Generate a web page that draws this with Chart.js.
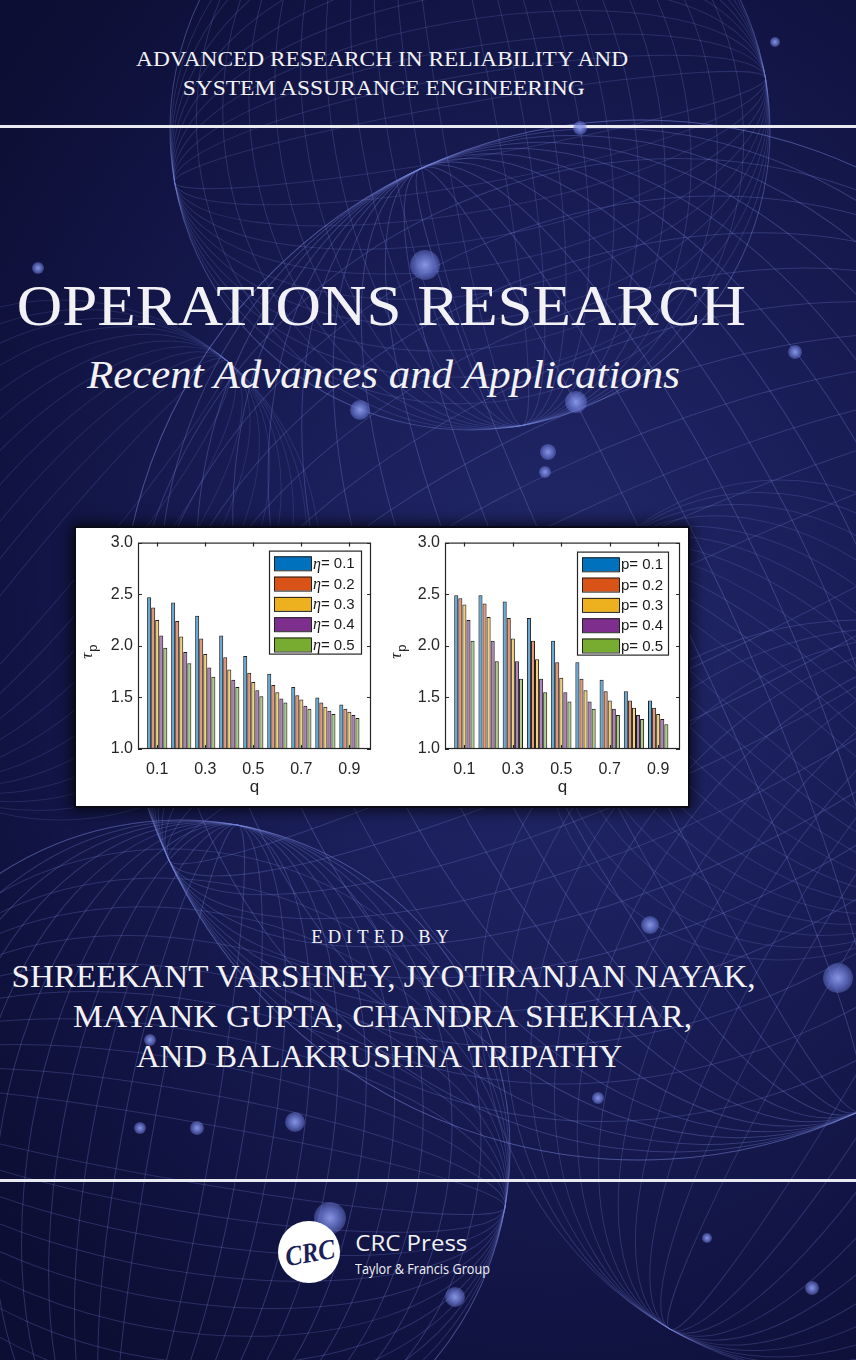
<!DOCTYPE html>
<html>
<head>
<meta charset="utf-8">
<script src="https://cdn.jsdelivr.net/npm/chart.js@4.4.1/dist/chart.umd.min.js"></script>
<style>
  html, body { margin:0; padding:0; }
  body { width:856px; height:1360px; overflow:hidden; position:relative;
    background: radial-gradient(ellipse 720px 900px at 560px 640px, #22286a 0%, #1a1e58 40%, #121545 72%, #0c0e33 100%);
    font-family: "Liberation Serif", serif; color:#f2f2f6; }
  #deco { position:absolute; left:0; top:0; }
  .txt { position:absolute; white-space:nowrap; line-height:1; }
  .txt span { display:inline-block; line-height:1; transform-origin: 50% 50%; }
  .rule { position:absolute; left:0; width:856px; background:#e9e9f1; }
  #box { position:absolute; left:76px; top:528px; width:612px; height:278px; background:#fff;
         outline:2px solid #0b0b18; box-shadow: 0 0 14px 4px rgba(0,0,0,0.75); }
  .cw { position:absolute; top:528px; height:278px; }
  .dot { position:absolute; border-radius:50%;
         background: radial-gradient(circle, rgba(140,155,235,0.95) 0%, rgba(110,125,215,0.7) 45%, rgba(90,105,200,0) 100%); }
</style>
</head>
<body>
<svg id="deco" width="856" height="1360"></svg>

<div class="rule" style="top:125px;height:3px"></div>
<div class="rule" style="top:1179px;height:3px"></div>

<div class="txt" data-cx="382" data-base="67" data-fs="21" data-w="492"><span>ADVANCED RESEARCH IN RELIABILITY AND</span></div>
<div class="txt" data-cx="384" data-base="96" data-fs="21" data-w="402"><span>SYSTEM ASSURANCE ENGINEERING</span></div>
<div class="txt" data-cx="381" data-base="325" data-fs="56" data-w="729"><span>OPERATIONS RESEARCH</span></div>
<div class="txt" data-cx="383" data-base="388" data-fs="40" data-w="593" style="font-style:italic"><span>Recent Advances and Applications</span></div>
<div class="txt" data-cx="383" data-base="943" data-fs="18" data-w="143" style="letter-spacing:5px"><span>EDITED BY</span></div>
<div class="txt" data-cx="384" data-base="987" data-fs="32" data-w="744"><span>SHREEKANT VARSHNEY, JYOTIRANJAN NAYAK,</span></div>
<div class="txt" data-cx="383" data-base="1027" data-fs="32" data-w="619"><span>MAYANK GUPTA, CHANDRA SHEKHAR,</span></div>
<div class="txt" data-cx="379" data-base="1067" data-fs="32" data-w="486"><span>AND BALAKRUSHNA TRIPATHY</span></div>

<div id="box"></div>
<div class="cw" style="left:76px;width:300px"><canvas id="cLeft"></canvas></div>
<div class="cw" style="left:376px;width:312px"><canvas id="cRight"></canvas></div>

<!-- publisher logo -->
<div style="position:absolute;left:278px;top:1221px;width:62px;height:62px;border-radius:50%;background:#fff;"></div>
<div class="txt" data-cx="310" data-base="1262" data-fs="28" data-w="50" data-rot="-10" style="font-style:italic;font-weight:bold;color:#1b1f57"><span>CRC</span></div>
<div class="txt" data-cx="411" data-base="1251" data-fs="22" data-w="112" data-off="0.888" style="font-family:'Open Sans'"><span>CRC Press</span></div>
<div class="txt" data-cx="422" data-base="1274" data-fs="14" data-w="135" data-off="0.888" style="font-family:'Open Sans'"><span>Taylor &amp; Francis Group</span></div>

<script>
// ---------------- data ----------------
const categories = [0.1, 0.2, 0.3, 0.4, 0.5, 0.6, 0.7, 0.8, 0.9];
const xTickLabels = [0.1, 0.3, 0.5, 0.7, 0.9];
const yTickValues = [1.0, 1.5, 2.0, 2.5, 3.0];

const etaLabels = ['η= 0.1', 'η= 0.2', 'η= 0.3', 'η= 0.4', 'η= 0.5'];
const eta01 = [2.47, 2.42, 2.29, 2.10, 1.90, 1.73, 1.60, 1.50, 1.43];
const eta02 = [2.37, 2.24, 2.07, 1.89, 1.74, 1.62, 1.52, 1.45, 1.39];
const eta03 = [2.25, 2.09, 1.92, 1.77, 1.65, 1.55, 1.48, 1.41, 1.36];
const eta04 = [2.10, 1.94, 1.79, 1.67, 1.57, 1.49, 1.42, 1.37, 1.33];
const eta05 = [1.98, 1.83, 1.70, 1.60, 1.51, 1.45, 1.39, 1.34, 1.30];

const pLabels = ['p= 0.1', 'p= 0.2', 'p= 0.3', 'p= 0.4', 'p= 0.5'];
const p01 = [2.49, 2.49, 2.43, 2.27, 2.05, 1.84, 1.67, 1.56, 1.47];
const p02 = [2.46, 2.41, 2.27, 2.05, 1.84, 1.68, 1.56, 1.47, 1.40];
const p03 = [2.40, 2.28, 2.07, 1.87, 1.69, 1.57, 1.47, 1.40, 1.34];
const p04 = [2.25, 2.05, 1.85, 1.68, 1.55, 1.46, 1.39, 1.33, 1.29];
const p05 = [2.05, 1.85, 1.68, 1.55, 1.46, 1.39, 1.33, 1.29, 1.24];

const seriesColors = ['#0072BD', '#D95319', '#EDB120', '#7E2F8E', '#77AC30'];
const xAxisTitle = 'q';
const yAxisTitle = 'τ';
const yAxisSub = 'p';

// ---------------- page text placement ----------------
document.querySelectorAll('.txt').forEach(el => {
  const fs = +el.dataset.fs;
  const off = el.dataset.off ? +el.dataset.off : 0.8375;
  el.style.fontSize = fs + 'px';
  el.style.top = (+el.dataset.base - off * fs) + 'px';
  const sp = el.querySelector('span');
  const w = sp.getBoundingClientRect().width;
  const target = +el.dataset.w;
  el.style.left = (+el.dataset.cx - w / 2) + 'px';
  let tf = 'scaleX(' + (target / w).toFixed(4) + ')';
  if (el.dataset.rot) tf = 'rotate(' + el.dataset.rot + 'deg) ' + tf;
  sp.style.transform = tf;
});

// ---------------- decorative background net ----------------
(function(){
  const svg = document.getElementById('deco');
  const NS = 'http://www.w3.org/2000/svg';
  function ell(cx, cy, rx, ry, rot, op) {
    const e = document.createElementNS(NS, 'ellipse');
    e.setAttribute('cx', cx); e.setAttribute('cy', cy);
    e.setAttribute('rx', rx); e.setAttribute('ry', ry);
    e.setAttribute('transform', 'rotate(' + rot + ' ' + cx + ' ' + cy + ')');
    e.setAttribute('fill', 'none');
    e.setAttribute('stroke', '#7b89dc');
    e.setAttribute('stroke-opacity', op);
    e.setAttribute('stroke-width', '1');
    svg.appendChild(e);
  }
  const fam = [
    [640, 640, 520, -25, 0.32], [640, 640, 520, 65, 0.28],
    [180, 1150, 330, 10, 0.30], [180, 1150, 330, 100, 0.26],
    [470, 130, 300, -10, 0.24], [470, 130, 300, 80, 0.22],
    [860, 1000, 380, 30, 0.26], [60, 560, 260, 40, 0.18],
    [780, 720, 240, -50, 0.22]
  ];
  fam.forEach(f => {
    for (let k = 1; k <= 11; k++) {
      ell(f[0], f[1], f[2] * k / 11, f[2], f[3], f[4]);
    }
  });
  const dots = [[425,265,15],[360,410,10],[548,452,8],[576,402,11],[795,352,7],[650,925,9],
                [838,978,15],[150,1040,6],[295,1122,10],[455,1297,10],[197,1128,7],[580,128,7],
                [775,42,5],[38,268,6],[812,1288,7],[140,1128,6],[598,1098,6],[707,1238,5],
                [330,1218,16],[545,472,6]];
  dots.forEach(d => {
    const el = document.createElement('div');
    el.className = 'dot';
    el.style.left = (d[0] - d[2]) + 'px'; el.style.top = (d[1] - d[2]) + 'px';
    el.style.width = el.style.height = (2 * d[2]) + 'px';
    document.body.insertBefore(el, document.getElementById('box'));
  });
})();

// ---------------- chart plugins ----------------
function rgba(hex, a) {
  const n = parseInt(hex.slice(1), 16);
  return 'rgba(' + (n >> 16 & 255) + ',' + (n >> 8 & 255) + ',' + (n & 255) + ',' + a + ')';
}

const matlabFrame = {
  id: 'matlabFrame',
  afterDatasetsDraw(chart) {
    const {ctx, chartArea: a, scales: {x, y}} = chart;
    const o = chart.options.plugins.matlabFrame;
    ctx.save();
    ctx.strokeStyle = '#262626'; ctx.lineWidth = 1.2;
    ctx.strokeRect(a.left + 0.5, a.top + 0.5, a.right - a.left - 1, a.bottom - a.top - 1);
    ctx.beginPath();
    y.ticks.forEach(t => {
      const py = Math.round(y.getPixelForValue(t.value)) + 0.5;
      ctx.moveTo(a.left, py); ctx.lineTo(a.left + 4, py);
      ctx.moveTo(a.right, py); ctx.lineTo(a.right - 4, py);
    });
    x.ticks.forEach(t => {
      const px = Math.round(x.getPixelForValue(t.value)) + 0.5;
      ctx.moveTo(px, a.bottom); ctx.lineTo(px, a.bottom - 4);
      ctx.moveTo(px, a.top); ctx.lineTo(px, a.top + 4);
    });
    ctx.stroke();
    // y axis title with subscript
    ctx.translate(o.yTitleX, (a.top + a.bottom) / 2 + 4);
    ctx.rotate(-Math.PI / 2);
    ctx.fillStyle = '#262626';
    ctx.textBaseline = 'alphabetic';
    ctx.font = 'italic 17px "Liberation Serif"';
    ctx.fillText(yAxisTitle, -9, 5);
    const tw = ctx.measureText(yAxisTitle).width;
    ctx.font = '13px "Liberation Sans"';
    ctx.fillText(yAxisSub, -9 + tw + 1, 10);
    ctx.restore();
  }
};

const boxLegend = {
  id: 'boxLegend',
  afterDraw(chart) {
    const {ctx, chartArea: a} = chart;
    const o = chart.options.plugins.boxLegend;
    const bx = a.right - o.inset - o.width, by = a.top + o.top;
    ctx.save();
    ctx.fillStyle = '#fff';
    ctx.fillRect(bx, by, o.width, o.height);
    ctx.strokeStyle = '#262626'; ctx.lineWidth = 1.2;
    ctx.strokeRect(bx + 0.5, by + 0.5, o.width, o.height);
    chart.data.datasets.forEach((ds, i) => {
      const cy = by + 12.7 + i * 20.3;
      ctx.fillStyle = ds.legendColor;
      ctx.fillRect(bx + 5, cy - 7, 37, 14);
      ctx.strokeStyle = '#222'; ctx.lineWidth = 1;
      ctx.strokeRect(bx + 5.5, cy - 6.5, 37, 14);
      ctx.fillStyle = '#1a1a1a';
      ctx.textBaseline = 'middle';
      let tx = bx + 44;
      let label = ds.label;
      if (label.startsWith('η')) {
        ctx.font = 'italic 16px "Liberation Serif"';
        ctx.fillText('η', tx, cy + 1);
        tx += ctx.measureText('η').width;
        label = label.slice(1);
      }
      ctx.font = '15px "Liberation Sans"';
      ctx.fillText(label, tx, cy + 1);
    });
    ctx.restore();
  }
};

function makeChart(id, series, labels, cfg) {
  const datasets = series.map((vals, i) => ({
    label: labels[i],
    data: categories.map((q, j) => ({x: q, y: vals[j]})),
    backgroundColor: rgba(seriesColors[i], 0.6),
    legendColor: seriesColors[i],
    borderColor: '#1e1e1e',
    borderWidth: 1,
    base: 1.0,
    categoryPercentage: 0.84,
    barPercentage: 1.0
  }));
  return new Chart(document.getElementById(id), {
    type: 'bar',
    data: {datasets},
    plugins: [matlabFrame, boxLegend],
    options: {
      responsive: true, maintainAspectRatio: false, animation: false,
      layout: {padding: {left: 0, right: cfg.padRight, top: 12, bottom: 0}},
      plugins: {
        legend: {display: false}, tooltip: {enabled: false},
        matlabFrame: {yTitleX: cfg.yTitleX},
        boxLegend: {inset: cfg.legInset, top: cfg.legTop, width: cfg.legW, height: 103}
      },
      scales: {
        x: {
          type: 'linear', min: 0.02, max: 0.99, offset: false,
          afterBuildTicks: s => { s.ticks = xTickLabels.map(v => ({value: v})); },
          afterFit: s => { s.height = 57; },
          grid: {display: false, drawTicks: false, offset: false}, border: {display: false},
          ticks: {padding: 11, color: '#262626', font: {family: 'Liberation Sans', size: 16},
                  callback: v => Number(v).toFixed(1), maxRotation: 0, autoSkip: false},
          title: {display: true, text: xAxisTitle, color: '#262626',
                  font: {family: 'Liberation Sans', size: 17}, padding: {top: 0, bottom: 8}}
        },
        y: {
          type: 'linear', min: 1.0, max: 3.0,
          afterBuildTicks: s => { s.ticks = yTickValues.map(v => ({value: v})); },
          afterFit: s => { s.width = cfg.yWidth; },
          grid: {display: false, drawTicks: false}, border: {display: false},
          ticks: {padding: 5, color: '#262626', font: {family: 'Liberation Sans', size: 16},
                  callback: v => Number(v).toFixed(1)}
        }
      }
    }
  });
}

makeChart('cLeft', [eta01, eta02, eta03, eta04, eta05], etaLabels,
  {padRight: 5, yWidth: 62, yTitleX: 11, legInset: 10, legTop: 8, legW: 92});
makeChart('cRight', [p01, p02, p03, p04, p05], pLabels,
  {padRight: 8, yWidth: 69, yTitleX: 20, legInset: 12, legTop: 9, legW: 91});
</script>
</body>
</html>
